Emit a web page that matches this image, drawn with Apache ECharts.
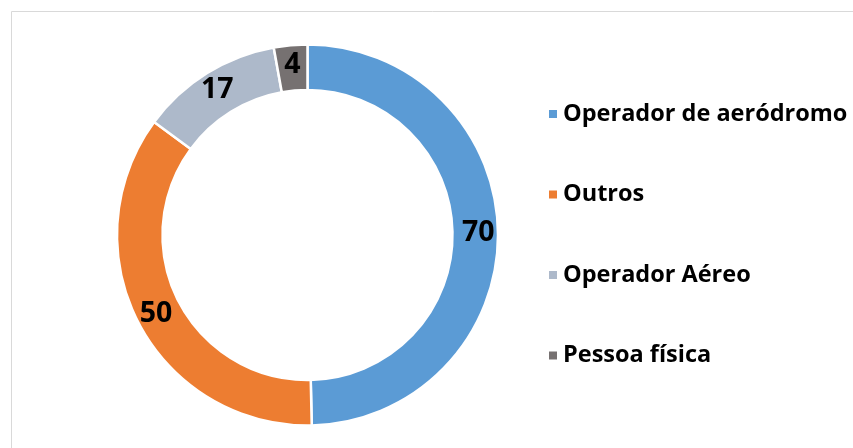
<!DOCTYPE html>
<html><head><meta charset="utf-8">
<script src="https://cdn.jsdelivr.net/npm/echarts@6/dist/echarts.min.js"></script>
<style>html,body{margin:0;padding:0;background:#fff}#c{width:853px;height:448px}</style>
</head><body><div id="c"></div>
<script>
const categories = ['Operador de aeródromo', 'Outros', 'Operador Aéreo', 'Pessoa física'];
const values = [70, 50, 17, 4];
const colors = ['#5B9BD5', '#ED7D31', '#ADB9CA', '#767171'];

const chart = echarts.init(document.getElementById('c'));
const FONT = 'Open Sans';
chart.setOption({
  animation: false,
  color: colors,
  graphic: [{
    type: 'rect', silent: true,
    shape: {x: 11.5, y: 11.5, width: 900, height: 500},
    style: {fill: 'none', stroke: '#D9D9D9', lineWidth: 1}
  }],
  legend: {
    orient: 'vertical',
    left: 542,
    top: 94,
    itemWidth: 10,
    itemHeight: 10,
    itemGap: 50.5,
    icon: 'rect',
    data: categories,
    textStyle: {fontFamily: FONT, fontWeight: 'bold', fontSize: 23.5, color: '#000', lineHeight: 30, padding: [0,0,0,0]},
    selectedMode: false
  },
  series: [{
    type: 'pie',
    center: [307.5, 235],
    radius: [145, 190.5],
    startAngle: 90,
    clockwise: true,
    avoidLabelOverlap: false,
    itemStyle: {borderColor: '#fff', borderWidth: 2.5},
    label: {
      show: true, position: 'inside', formatter: '{c}',
      fontFamily: FONT, fontWeight: 'bold', fontSize: 28.5, color: '#000'
    },
    labelLine: {show: false},
    emphasis: {disabled: true},
    data: categories.map((n, i) => ({name: n, value: values[i]}))
  }]
});
</script></body></html>
